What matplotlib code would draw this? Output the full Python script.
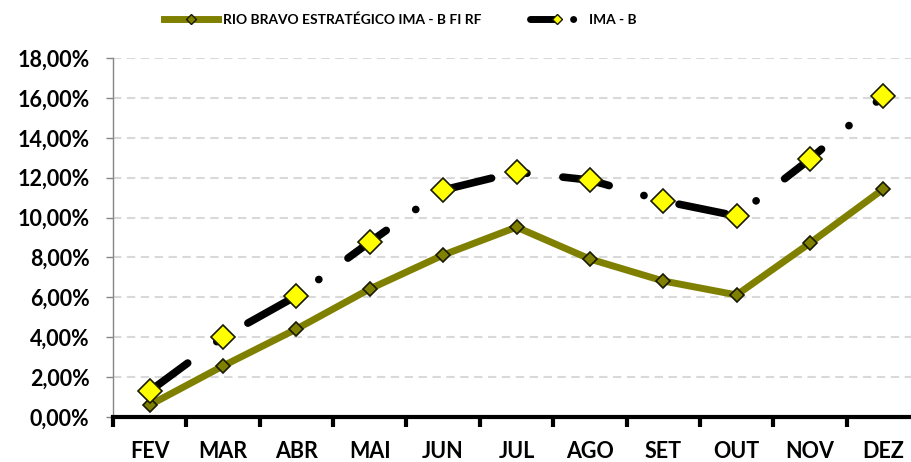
import matplotlib.pyplot as plt
from matplotlib.ticker import FuncFormatter, FixedLocator
from matplotlib.lines import Line2D

months = ["FEV", "MAR", "ABR", "MAI", "JUN", "JUL", "AGO", "SET", "OUT", "NOV", "DEZ"]
rio_bravo = [0.60, 2.56, 4.41, 6.42, 8.12, 9.52, 7.92, 6.82, 6.12, 8.72, 11.43]
ima_b = [1.30, 4.01, 6.07, 8.77, 11.38, 12.28, 11.88, 10.83, 10.08, 12.93, 16.09]
fund_label = "RIO BRAVO ESTRATÉGICO IMA - B FI RF"
index_label = "IMA - B"

plt.rcParams["font.family"] = ["Lato", "DejaVu Sans"]
plt.rcParams["font.weight"] = "bold"
plt.rcParams["lines.scale_dashes"] = False

fig = plt.figure(figsize=(9.12, 4.62), dpi=100)
ax = fig.add_axes([113 / 912, 1 - 417 / 462, 807 / 912, 359 / 462])

x = list(range(len(months)))
ax.plot(x, rio_bravo, color="#808000", lw=5, solid_capstyle="round",
        marker="D", markersize=7, markerfacecolor="#808000",
        markeredgecolor="#1a1a00", markeredgewidth=1.2, zorder=3)
ax.plot(x, ima_b, color="black", lw=5.5, linestyle=(0, (34, 26, 0.1, 26)),
        dash_capstyle="round", marker="D", markersize=12.5,
        markerfacecolor="#ffff00", markeredgecolor="#1a1a00",
        markeredgewidth=1.2, zorder=4)

ax.set_xlim(-0.5, len(months) - 0.5)
ax.set_ylim(0, 18)
ax.yaxis.set_major_locator(FixedLocator([i * 2 for i in range(10)]))
ax.yaxis.set_major_formatter(FuncFormatter(lambda v, p: f"{v:.2f}%".replace(".", ",")))
ax.set_xticks(x)
ax.set_xticklabels(months)
ax.set_xticks([i - 0.5 for i in range(len(months) + 1)], minor=True)
ax.tick_params(axis="x", which="major", length=0, pad=17, labelsize=15.5)
ax.tick_params(axis="x", which="minor", length=7, width=3, color="black", direction="out")
ax.tick_params(axis="y", length=5, width=1, color="#868686", labelsize=15.5, pad=12)

for t in ax.get_xticklabels() + ax.get_yticklabels():
    t.set_fontweight("bold")

ax.grid(axis="y", color="#d9d9d9", lw=1.5, linestyle=(0, (6, 4)))
ax.set_axisbelow(True)
for side in ["top", "right"]:
    ax.spines[side].set_visible(False)
ax.spines["left"].set_color("#868686")
ax.spines["left"].set_linewidth(1)
ax.spines["bottom"].set_color("black")
ax.spines["bottom"].set_linewidth(3)

handles = [
    Line2D([], [], color="#808000", lw=5, marker="D", markersize=5,
           markerfacecolor="#808000", markeredgecolor="#1a1a00"),
    Line2D([], [], color="black", lw=5, linestyle=(0, (19, 12, 0.1, 30)),
           dash_capstyle="round", marker="D", markersize=5,
           markerfacecolor="#ffff00", markeredgecolor="#1a1a00"),
]
fig.legend(handles, [fund_label, index_label], loc="center left",
           bbox_to_anchor=(152 / 912, 1 - 20 / 462), ncol=2, frameon=False,
           handlelength=3.9, columnspacing=3.5, handletextpad=0.4,
           prop={"family": ["Lato", "DejaVu Sans"], "weight": "bold", "size": 9.9})

fig.savefig("out.png", dpi=100)
